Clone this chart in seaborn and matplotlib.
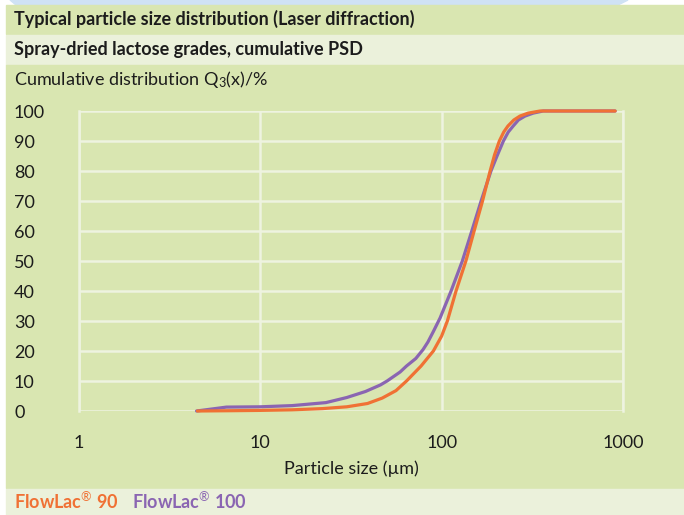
import numpy as np
import pandas as pd
import seaborn as sns
import matplotlib.pyplot as plt
from matplotlib.patches import Rectangle, Polygon
from matplotlib.ticker import NullLocator

# cumulative PSD (x in µm, Q3 in %)
flowlac90_x = [4.5, 7, 10, 15, 22, 30, 39, 47, 56, 64, 77, 90, 100, 107.5, 120, 136,
               151, 168, 185, 196, 208, 220, 232, 250, 270, 300, 349, 500, 700, 905]
flowlac90_q = [0, 0.1, 0.2, 0.4, 0.8, 1.4, 2.5, 4.3, 6.8, 10, 15, 20, 25, 30, 40, 50,
               60, 70, 80, 85.5, 90, 93, 95, 97, 98.3, 99.3, 100, 100, 100, 100]
flowlac100_x = [4.45, 6.5, 10, 15, 23, 30, 38, 46, 50, 59, 64, 72, 79, 84, 90, 98, 112.7, 130,
                146.6, 165, 187, 202, 219, 233, 248, 265, 288, 320, 363, 500, 700, 905]
flowlac100_q = [0, 1.3, 1.4, 1.8, 2.8, 4.5, 6.5, 8.7, 10, 13, 15, 17.5, 20.5, 23, 26.5, 31, 40, 50,
                60, 70, 80, 85, 90, 93, 95, 97, 98.3, 99.3, 100, 100, 100, 100]

x_ticks = [1, 10, 100, 1000]
x_tick_labels = ['1', '10', '100', '1000']
y_ticks = list(range(0, 101, 10))

df = pd.concat([
    pd.DataFrame({'size': flowlac100_x, 'Q3': flowlac100_q, 'grade': 'FlowLac 100'}),
    pd.DataFrame({'size': flowlac90_x, 'Q3': flowlac90_q, 'grade': 'FlowLac 90'}),
])

green = '#d9e6b1'
light = '#ebf1db'
grid_col = '#eef3e0'
orange = '#f07134'
purple = '#8a65b2'
ink = '#1c1c1c'

plt.rcParams['font.family'] = ['Lato', 'DejaVu Sans']
plt.rcParams['mathtext.fontset'] = 'custom'
plt.rcParams['mathtext.rm'] = 'Lato'
plt.rcParams['mathtext.it'] = 'Lato'
plt.rcParams['mathtext.bf'] = 'Lato:bold'

W, H = 684, 515
FS = 13
fig = plt.figure(figsize=(6.84, 5.15), dpi=100)
fig.patch.set_facecolor('white')


def band(y0, y1, color, x0=6):
    fig.patches.append(Rectangle((x0 / W, 1 - y1 / H), (W - x0) / W, (y1 - y0) / H,
                                 transform=fig.transFigure, color=color, zorder=-10))


# light blue strip at the very top
fig.patches.append(Polygon([(10 / W, 1), (628 / W, 1), (618 / W, 1 - 5 / H), (16 / W, 1 - 5 / H)],
                           closed=True, transform=fig.transFigure, color='#cfe2f4', zorder=-10))
band(5, 34, green)
band(35, 65, light)
band(65, 488, green)
band(489, 515, light)

fig.text(14 / W, 1 - 19 / H, 'Typical particle size distribution (Laser diffraction)',
         fontsize=FS, fontweight='bold', color=ink, va='center', ha='left')
fig.text(14 / W, 1 - 49 / H, 'Spray-dried lactose grades, cumulative PSD',
         fontsize=FS, fontweight='bold', color=ink, va='center', ha='left')
fig.text(14 / W, 1 - 79 / H, 'Cumulative distribution Q$_3$(x)/%',
         fontsize=FS, color=ink, va='center', ha='left')

ax = fig.add_axes([79 / W, 1 - 411 / H, 544 / W, 300 / H])
ax.patch.set_alpha(0)

# legend row at the bottom
leg1 = fig.text(14 / W, 1 - 502 / H, 'FlowLac$^{®}$ 90', fontsize=FS, fontweight='bold',
                color=orange, va='center', ha='left')
ax.annotate('FlowLac$^{®}$ 100', xy=(1, 0.5), xycoords=leg1, xytext=(10, 0),
            textcoords='offset points', fontsize=FS, fontweight='bold',
            color=purple, va='center', ha='left', annotation_clip=False)

sns.lineplot(data=df, x='size', y='Q3', hue='grade', hue_order=['FlowLac 100', 'FlowLac 90'],
             palette={'FlowLac 100': purple, 'FlowLac 90': orange}, estimator=None,
             linewidth=2.3, legend=False, ax=ax)
for line in ax.lines:
    line.set_clip_on(False)
    line.set_solid_capstyle('round')
    line.set_solid_joinstyle('round')

ax.set_xscale('log')
ax.set_xlim(1, 1000)
ax.set_ylim(0, 100)
ax.set_xticks(x_ticks)
ax.set_xticklabels(x_tick_labels)
ax.xaxis.set_minor_locator(NullLocator())
ax.set_yticks(y_ticks)
ax.grid(True, color=grid_col, linewidth=1.8)
ax.set_axisbelow(True)

for side in ['top', 'bottom']:
    ax.spines[side].set_visible(False)
for side in ['left', 'right']:
    ax.spines[side].set_color(grid_col)
    ax.spines[side].set_linewidth(1.8)

ax.tick_params(axis='both', length=0, labelsize=FS, labelcolor=ink)
ax.tick_params(axis='x', pad=17)
ax.tick_params(axis='y', pad=65 * 0.72)
for lab in ax.get_yticklabels():
    lab.set_horizontalalignment('left')

ax.set_xlabel('Particle size (µm)', fontsize=FS, color=ink)
ax.xaxis.set_label_coords(0.5, -0.165)
ax.set_ylabel('')

fig.savefig('out.png', dpi=100)
